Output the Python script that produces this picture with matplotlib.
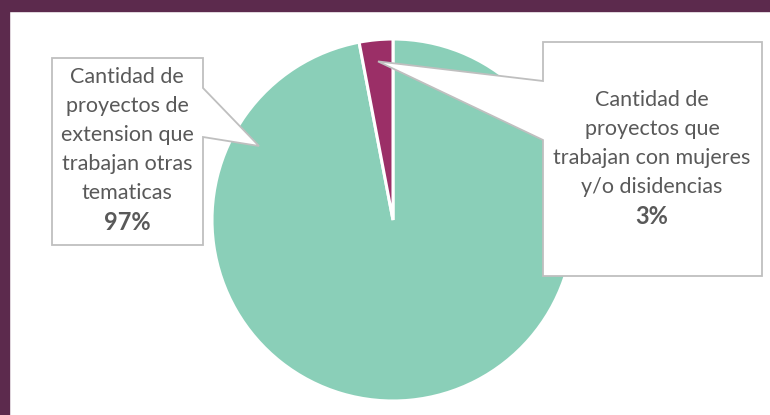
import matplotlib
matplotlib.use("Agg")
import matplotlib.pyplot as plt
from matplotlib.patches import Polygon, Rectangle
import numpy as np

# data
labels = ["Cantidad de\nproyectos de\nextension que\ntrabajan otras\ntematicas",
          "Cantidad de\nproyectos que\ntrabajan con mujeres\ny/o disidencias"]
values = [97, 3]
colors = ["#8ACFB8", "#9B2F67"]

W, H = 770, 415
fig = plt.figure(figsize=(W / 100, H / 100), dpi=100)
fig.patch.set_facecolor("white")
ax = fig.add_axes([0, 0, 1, 1])

# pixel coordinates, y measured from top
def py(y):
    return H - y

cx, cy, r = 393, 220, 181
ax.pie(values, colors=colors, startangle=90, counterclock=False,
       center=(cx, py(cy)), radius=r, frame=True,
       wedgeprops=dict(edgecolor="white", linewidth=2.2))
ax.set_xlim(0, W)
ax.set_ylim(0, H)
ax.set_aspect("equal")
ax.axis("off")

# purple frame (top and left)
border = "#5C2A4D"
ax.add_patch(Rectangle((0, py(11)), W, 11, color=border, zorder=10, clip_on=False))
ax.add_patch(Rectangle((0, 0), 9, H, color=border, zorder=10, clip_on=False))

def callout(x0, y0, x1, y1, side, pa, pb, tip):
    # box corners in image coords, pointer leaving from side between pa and pb
    if side == "right":
        pts = [(x0, y0), (x1, y0), (x1, pa), tip, (x1, pb), (x1, y1), (x0, y1)]
    else:
        pts = [(x0, y0), (x1, y0), (x1, y1), (x0, y1), (x0, pb), tip, (x0, pa)]
    pts = [(x, py(y)) for x, y in pts]
    ax.add_patch(Polygon(pts, closed=True, facecolor="white", edgecolor="#BFBFBF",
                         linewidth=1.3, zorder=5))

# tip of small slice callout at the middle angle of the slice
mid = np.deg2rad(90 + 360 * values[1] / 200.0)
tip_small = (cx + 0.88 * r * np.cos(mid), cy - 0.88 * r * np.sin(mid))

callout(52, 58, 203, 245, "right", 88, 137, (259, 146))
callout(543, 42, 762, 276, "left", 81, 140, tip_small)

txt = "#595959"
font = "Lato"
def box_text(xc, ytop, label, pct):
    lines = label.split("\n")
    for i, line in enumerate(lines):
        ax.text(xc, py(ytop + 29 * i), line, ha="center", va="center",
                fontsize=15.5, color=txt, family=font, zorder=6)
    ax.text(xc, py(ytop + 29 * len(lines) + 1), pct, ha="center", va="center",
            fontsize=17, fontweight="bold", color=txt, family=font, zorder=6)

box_text(127, 77, labels[0], "%d%%" % values[0])
box_text(652, 100, labels[1], "%d%%" % values[1])

fig.savefig("out.png", dpi=100, facecolor="white")
